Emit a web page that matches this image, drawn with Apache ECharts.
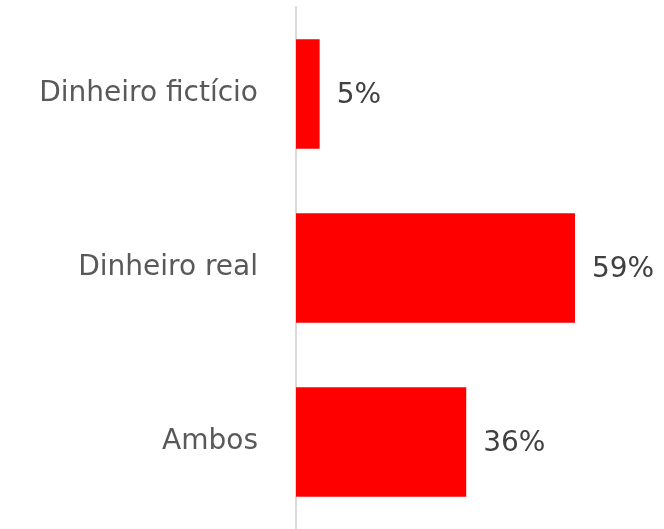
<!DOCTYPE html>
<html>
<head>
<meta charset="utf-8">
<script src="https://cdn.jsdelivr.net/npm/echarts@6/dist/echarts.min.js"></script>
<style>
  html, body { margin: 0; padding: 0; background: #ffffff; }
  #chart { width: 664px; height: 529px; }
</style>
</head>
<body>
<div id="chart"></div>
<script>
// Categories top to bottom, values in percent
const categories = ["Dinheiro fictício", "Dinheiro real", "Ambos"];
const values = [5, 59, 36];

const chart = echarts.init(document.getElementById('chart'));

chart.setOption({
  backgroundColor: '#ffffff',
  animation: false,
  grid: { left: 296, right: 37, top: 7, bottom: -3, containLabel: false },
  xAxis: {
    type: 'value',
    min: 0,
    max: 70,
    show: false
  },
  yAxis: {
    type: 'category',
    data: categories,
    inverse: true,
    axisLine: { show: true, lineStyle: { color: '#d9d9d9', width: 2 } },
    axisTick: { show: false },
    axisLabel: {
      margin: 38,
      color: '#595959',
      fontSize: 28,
      fontFamily: '"DejaVu Sans", sans-serif'
    }
  },
  series: [{
    type: 'bar',
    data: values,
    barWidth: '63%',
    itemStyle: { color: '#ff0000' },
    label: {
      show: true,
      position: 'right',
      distance: 17,
      offset: [0, 2],
      formatter: '{c}%',
      color: '#404040',
      fontSize: 28,
      fontFamily: '"DejaVu Sans", sans-serif'
    }
  }]
});
</script>
</body>
</html>
